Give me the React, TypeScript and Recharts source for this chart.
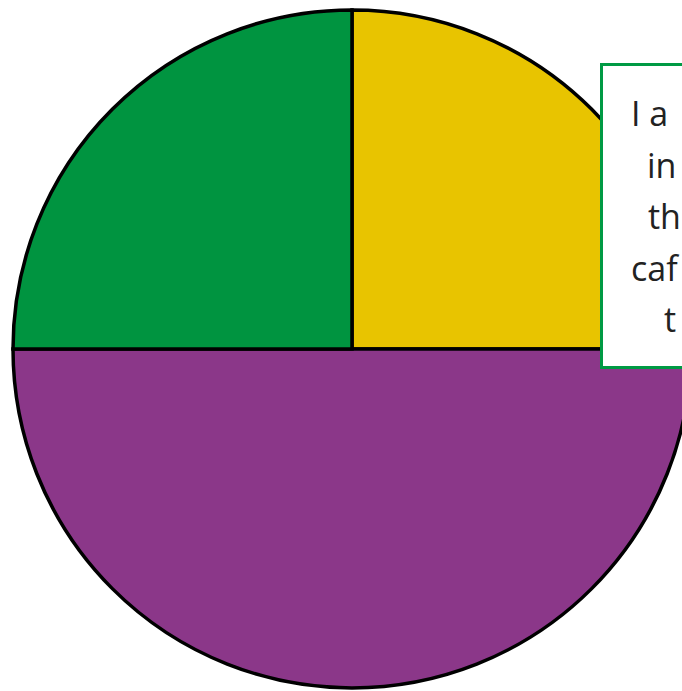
import { PieChart, Pie, Cell } from 'recharts'

// slices go clockwise from 12 o'clock
const sliceNames = ['Yellow', 'Purple', 'Green']
const sliceValues = [25, 50, 25]
const sliceColors = ['#e8c400', '#8b3789', '#009440']

// note box lines: only the part left of the picture edge is visible
const noteLines = ['I a', 'in', 'th', 'caf', 't']
const noteLineX = [631, 647, 648, 631, 664]

const data = sliceNames.map((name, i) => ({ name, value: sliceValues[i] }))

export default function App() {
  return (
    <div
      style={{
        position: 'absolute',
        left: 0,
        top: 0,
        width: 682,
        height: 691,
        overflow: 'hidden',
        background: '#fff',
      }}
    >
      <PieChart width={682} height={691} margin={{ top: 0, right: 0, bottom: 0, left: 0 }}>
        <Pie
          data={data}
          dataKey="value"
          nameKey="name"
          cx={352}
          cy={349}
          outerRadius={339}
          startAngle={90}
          endAngle={-270}
          stroke="#000"
          strokeWidth={3.5}
          isAnimationActive={false}
        >
          {data.map((entry, index) => (
            <Cell key={`cell-${index}`} fill={sliceColors[index]} />
          ))}
        </Pie>
      </PieChart>
      <div
        style={{
          position: 'absolute',
          left: 600,
          top: 63,
          width: 200,
          height: 300,
          border: '3px solid #009a44',
          background: '#fff',
        }}
      />
      {noteLines.map((line, i) => (
        <div
          key={line}
          style={{
            position: 'absolute',
            left: noteLineX[i],
            top: 90 + i * 51.5,
            fontFamily: '"Open Sans", sans-serif',
            fontSize: 34,
            lineHeight: '46px',
            color: '#222',
            whiteSpace: 'nowrap',
          }}
        >
          {line}
        </div>
      ))}
    </div>
  )
}
